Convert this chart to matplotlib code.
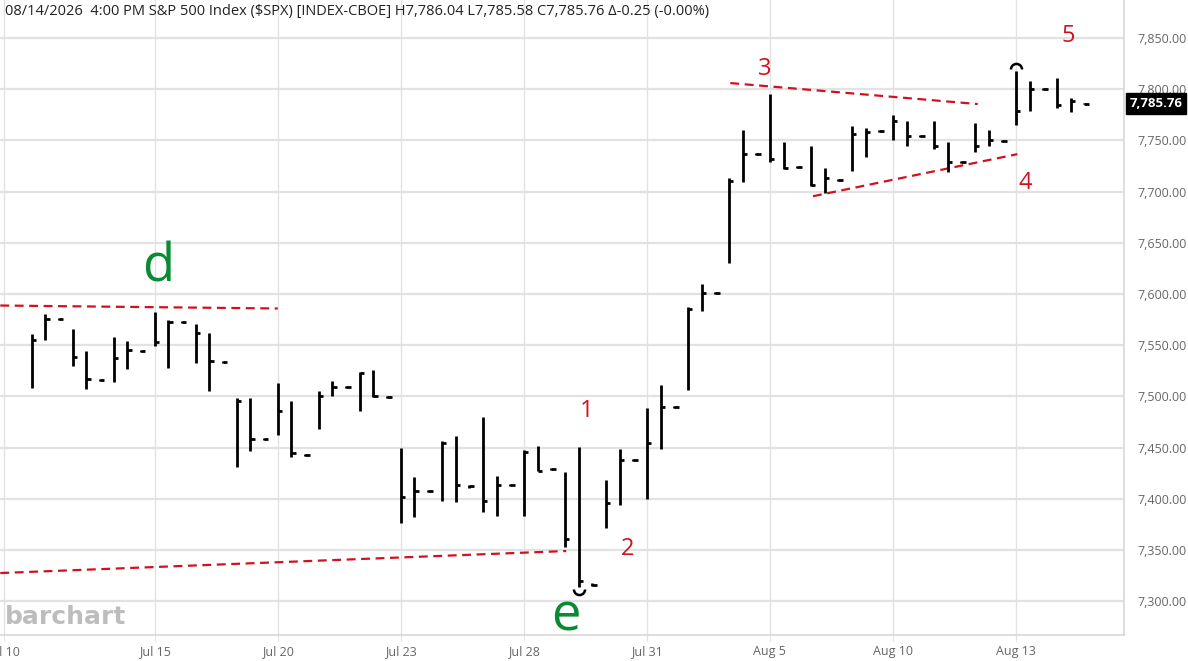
import matplotlib
matplotlib.use("Agg")
import matplotlib.pyplot as plt
from matplotlib.path import Path
import numpy as np

# 3 bars per session (Jul 10 .. Aug 14), index 0 = first bar of Jul 10
high = [7561, 7580, 7577, 7566, 7544, 7517, 7558, 7554, 7545, 7582, 7575, 7574, 7571, 7562, 7535,
        7498, 7498, 7459, 7513, 7495, 7444, 7505, 7515, 7510, 7524, 7526, 7500,
        7450, 7421, 7409, 7456, 7461, 7413, 7480, 7422, 7414, 7448, 7452, 7430, 7426, 7451, 7318,
        7418, 7449, 7439, 7489, 7511, 7491, 7587, 7610, 7602, 7713, 7760, 7738,
        7795, 7748, 7725, 7744, 7723, 7712, 7764, 7762, 7760, 7775, 7769, 7755,
        7769, 7748, 7730, 7767, 7760, 7750, 7818, 7808, 7801, 7811, 7791, 7786.04]
low = [7508, 7555, 7575, 7530, 7507, 7515, 7514, 7527, 7543, 7549, 7528, 7572, 7533, 7505, 7533,
       7431, 7447, 7457, 7462, 7441, 7442, 7468, 7500, 7508, 7486, 7499, 7498,
       7376, 7382, 7407, 7398, 7397, 7411, 7387, 7383, 7412, 7383, 7427, 7428, 7353, 7314, 7315,
       7371, 7394, 7437, 7400, 7449, 7489, 7506, 7583, 7600, 7630, 7709, 7736,
       7729, 7722, 7723, 7705, 7699, 7710, 7720, 7734, 7758, 7750, 7744, 7753,
       7742, 7719, 7728, 7739, 7744, 7748, 7765, 7779, 7799, 7782, 7778, 7785.58]
close = [7555, 7576, 7576, 7538, 7517, 7516, 7537, 7545, 7544, 7553, 7573, 7573, 7562, 7535, 7534,
         7495, 7458, 7458, 7486, 7445, 7443, 7500, 7509, 7509, 7523, 7500, 7499,
         7402, 7408, 7408, 7454, 7413, 7412, 7398, 7413, 7413, 7446, 7427, 7429, 7361, 7320, 7316,
         7396, 7438, 7438, 7454, 7490, 7490, 7585, 7601, 7601, 7710, 7737, 7737,
         7732, 7723, 7724, 7706, 7713, 7711, 7756, 7758, 7759, 7769, 7754, 7754,
         7744, 7729, 7729, 7744, 7750, 7749, 7779, 7800, 7800, 7784, 7788, 7785.76]

tick_pos = [-2, 9, 18, 27, 36, 45, 54, 63, 72]
tick_labels = ["Jul 10", "Jul 15", "Jul 20", "Jul 23", "Jul 28", "Jul 31", "Aug 5", "Aug 10", "Aug 13"]
price_ticks = [7300, 7350, 7400, 7450, 7500, 7550, 7600, 7650, 7700, 7750, 7800, 7850]

# hand-drawn trendlines: (x0, y0, x1, y1) in bar index / price
trend_lines = [
    (-2.3, 7588.7, 18.0, 7585.8),
    (-2.3, 7327.5, 39.1, 7349.0),
    (51.1, 7805.9, 69.2, 7785.4),
    (57.15, 7695.4, 72.1, 7736.5),
]
wave_labels = ["1", "2", "3", "4", "5"]
wave_x = [40.6, 43.55, 53.64, 72.7, 75.8]
wave_y = [7480, 7345, 7813.6, 7702, 7846]
big_labels = ["d", "e"]
big_x = [9.24, 39.1]
big_y = [7612.2, 7271.7]

header = ("08/14/2026  4:00 PM S&P 500 Index ($SPX) [INDEX-CBOE] H7,786.04 L7,785.58 "
          "C7,785.76 \u0394-0.25 (-0.00%)")

RED = "#d0121f"
GREEN = "#0a8a34"
GRID = "#e2e2e2"

plt.rcParams["font.family"] = ["Open Sans", "DejaVu Sans"]

fig = plt.figure(figsize=(11.88, 6.61), dpi=100)
ax = fig.add_axes([0, 26 / 661, 1124 / 1188, 635 / 661])

x = np.arange(len(high))
ax.vlines(x, low, high, color="black", linewidth=2.0, zorder=4)
ax.hlines(close, x, x + 0.32, color="black", linewidth=2.0, zorder=4)

# swing markers
i_top = int(np.argmax(high))
i_bot = int(np.argmin(low))
ax.plot([i_top], [high[i_top] + 2], ls="none", marker=Path.arc(0, 180), ms=8,
        mfc="none", mec="black", mew=1.8, zorder=5)
ax.plot([i_bot], [low[i_bot] - 2], ls="none", marker=Path.arc(180, 360), ms=8,
        mfc="none", mec="black", mew=1.8, zorder=5)

for x0, y0, x1, y1 in trend_lines:
    ax.plot([x0, x1], [y0, y1], color=RED, linestyle=(0, (4, 2.5)), linewidth=1.6, zorder=3)

for lab, xx, yy in zip(wave_labels, wave_x, wave_y):
    ax.text(xx, yy, lab, color=RED, fontsize=17, ha="center", va="baseline", zorder=6)
for lab, xx, yy in zip(big_labels, big_x, big_y):
    ax.text(xx, yy, lab, color=GREEN, fontsize=38, ha="center", va="baseline", zorder=6)

ax.set_xlim(-2.32, 79.9)
ax.set_ylim(7267, 7887)

ax.set_xticks(tick_pos)
ax.set_xticklabels(tick_labels)
ax.set_yticks(price_ticks)
ax.set_yticklabels([f"{v:,.2f}" for v in price_ticks])
ax.yaxis.tick_right()
ax.tick_params(axis="y", length=0, pad=10, labelsize=9, labelcolor="#666666")
ax.tick_params(axis="x", length=4, color=GRID, pad=3, labelsize=9, labelcolor="#666666")

ax.grid(axis="y", color=GRID, linewidth=1.6)
ax.grid(axis="x", color=GRID, linewidth=1.0)
ax.set_axisbelow(True)

for side in ["top", "left"]:
    ax.spines[side].set_visible(False)
for side in ["right", "bottom"]:
    ax.spines[side].set_color("#d8d8d8")
    ax.spines[side].set_linewidth(1.2)

# last price box
ax.annotate(f"{close[-1]:,.2f}", xy=(1.0, close[-1]), xycoords=("axes fraction", "data"),
            xytext=(4, 0), textcoords="offset points", ha="left", va="center",
            fontsize=9.5, fontweight="bold", color="white", annotation_clip=False,
            bbox=dict(boxstyle="square,pad=0.3", fc="black", ec="black"), zorder=10)

ax.text(0.004, 0.028, "barchart", transform=ax.transAxes, fontsize=18, fontweight="bold",
        color="#bdbdbd", family=["DejaVu Sans"], ha="left", va="center", zorder=1)

fig.text(5 / 1188, 1 - 11 / 661, header, fontsize=10.5, color="#222222", ha="left", va="center")

fig.savefig("out.png", dpi=100)
